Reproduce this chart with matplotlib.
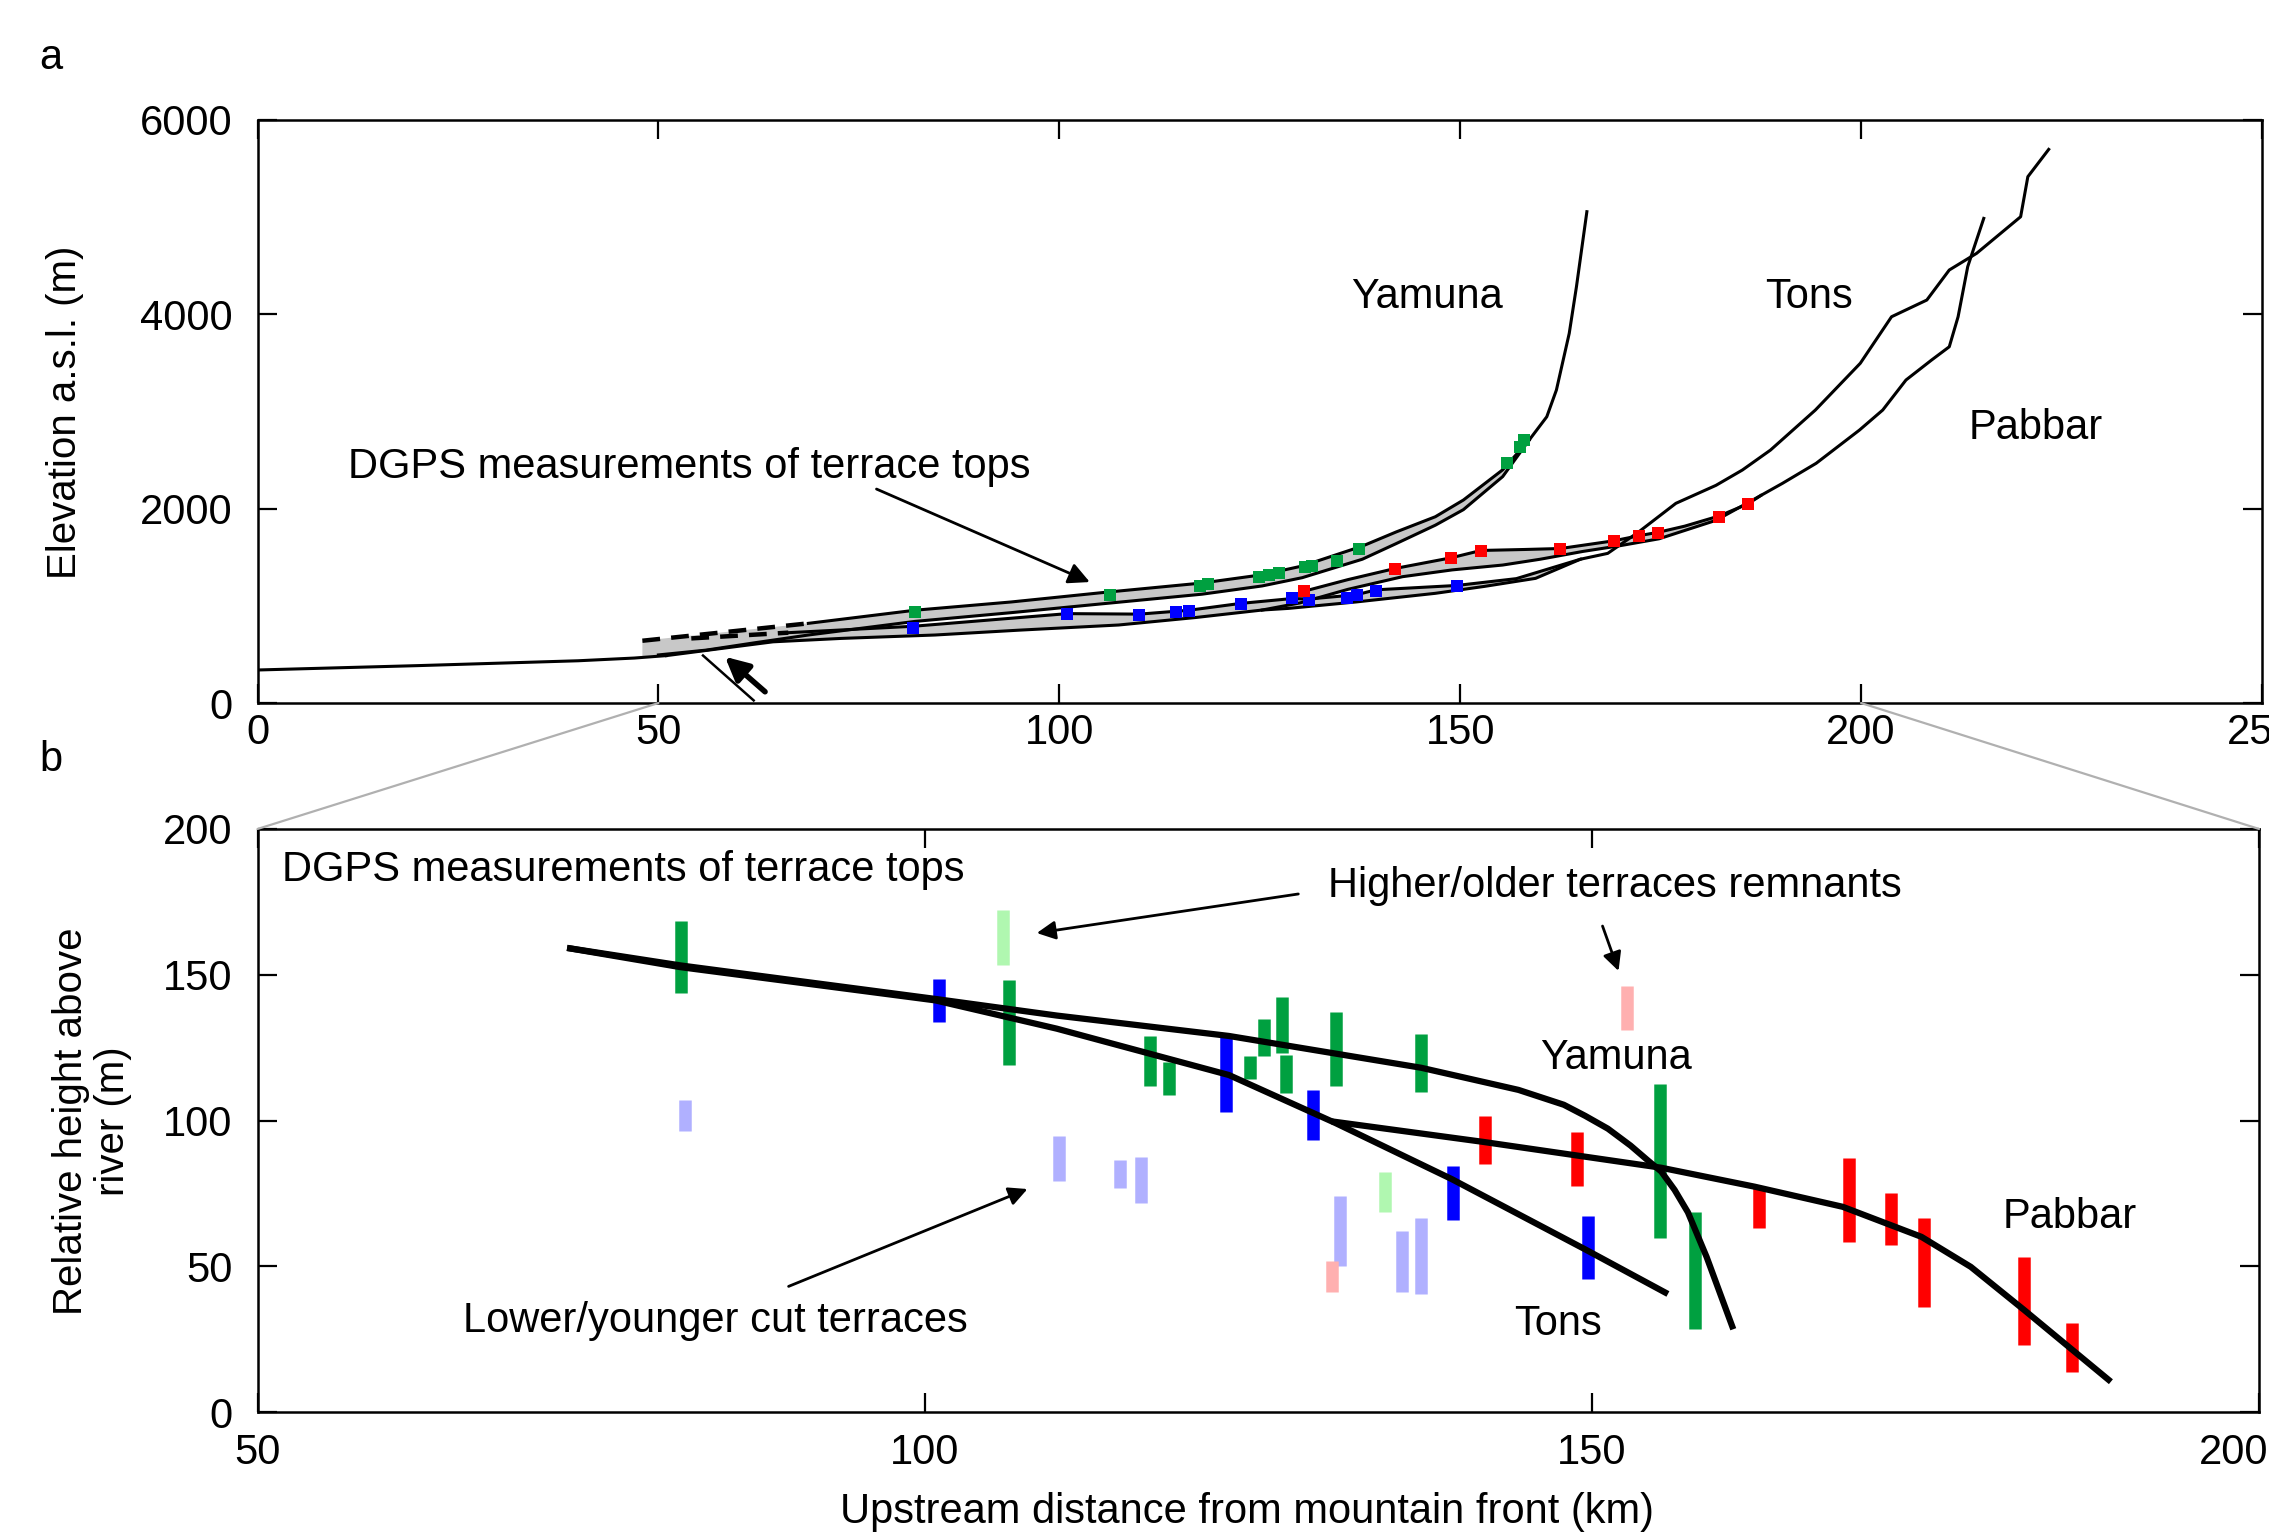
import numpy as np
import matplotlib.pyplot as plt
from matplotlib.patches import ConnectionPatch
from matplotlib.transforms import ScaledTranslation

plt.rcParams['font.family'] = ['Liberation Sans', 'DejaVu Sans']
FS = 30
FS_ROT = 29

# ---------------- panel a: river long profiles (km, m a.s.l.) ----------------
trunk_x = [0, 20, 40, 47, 51]
trunk_z = [340, 385, 435, 463, 488]

yam_top_dash_x = [48, 68.7]
yam_top_dash_z = [641, 820]
yam_top_x = [68.7, 82, 94, 105.2, 117.8, 125.3, 130.3, 137.8, 142, 146.9, 150.4, 155.3, 158.6]
yam_top_z = [820, 955, 1040, 1135, 1235, 1320, 1410, 1615, 1760, 1917, 2089, 2400, 2706]
yam_bot_x = [50, 56, 62, 68.7, 82, 94, 105.2, 117.8, 125.3, 130.3, 137.8, 142, 146.9, 150.4, 155.3, 158.6]
yam_bot_z = [495, 545, 620, 700, 840, 930, 1020, 1120, 1205, 1290, 1480, 1640, 1830, 1990, 2330, 2706]
yam_bed_x = [158.6, 160.8, 162.0, 163.6, 164.5, 165.8]
yam_bed_z = [2706, 2946, 3221, 3804, 4284, 5056]

tons_top_dash_x = [54.1, 66.2]
tons_top_dash_z = [665, 724]
tons_top_x = [66.2, 81.8, 101.0, 110, 116.2, 122.6, 129, 131.1, 137.1, 139.5, 149.6, 157, 165]
tons_top_z = [724, 790, 920, 915, 955, 1025, 1075, 1070, 1115, 1165, 1210, 1280, 1480]
tons_bed_x = [51, 58, 64.3, 72.8, 84.5, 95, 107.4, 117, 125.3, 128.6, 137, 146.9, 153, 159.4, 165,
              168.4, 172.3, 176.9, 181.9, 185.2, 188.7, 194.3, 199.9, 203.8, 208.2, 211.0, 214.4,
              219.9, 220.8, 223.4]
tons_bed_z = [488, 563, 630, 665, 700, 750, 803, 880, 957, 974, 1040, 1129, 1200, 1283, 1480,
              1540, 1763, 2055, 2240, 2398, 2603, 3015, 3496, 3975, 4147, 4456, 4627,
              5004, 5416, 5697]

pab_top_x = [128.6, 130.5, 136, 141.9, 148.9, 152.6, 158, 162.5, 169.2, 172.3, 174.7, 178, 182.3, 185.9, 187.5]
pab_top_z = [1060, 1150, 1270, 1385, 1495, 1570, 1580, 1590, 1670, 1722, 1757, 1820, 1925, 2050, 2136]
pab_bed_x = [125.3, 130, 136, 142.8, 149, 155.3, 160, 165.3, 170, 174.8, 181.9, 186.1, 187.5, 190.2,
             194.4, 199.8, 202.7, 205.6, 208.8, 211.0, 212.1, 213.3, 214.4, 215.3]
pab_bed_z = [957, 1030, 1170, 1300, 1370, 1420, 1480, 1560, 1620, 1690, 1880, 2071, 2136, 2261,
             2467, 2809, 3015, 3324, 3530, 3666, 3975, 4490, 4764, 4987]

# DGPS terrace tops on the profiles
g_pts_x = [82.0, 106.3, 117.6, 118.6, 124.9, 126.1, 127.4, 130.7, 131.5, 134.6, 137.4, 155.8, 157.5, 158.0]
g_pts_z = [940, 1111, 1207, 1221, 1300, 1317, 1334, 1396, 1410, 1464, 1581, 2466, 2638, 2706]
b_pts_x = [81.8, 101.0, 110.0, 114.5, 116.2, 122.6, 129.0, 131.1, 135.9, 137.1, 139.5, 149.6]
b_pts_z = [768, 912, 906, 940, 950, 1015, 1077, 1060, 1084, 1111, 1156, 1204]
r_pts_x = [130.5, 141.9, 148.9, 152.6, 162.5, 169.2, 172.3, 174.7, 182.3, 185.9]
r_pts_z = [1156, 1379, 1489, 1567, 1585, 1667, 1718, 1752, 1917, 2045]

# ---------------- panel b: relative terrace heights (m) ----------------
yam_fit_x = [73.2, 81.7, 100.8, 109.9, 122.8, 137.2, 144.5, 147.9, 149.5, 151.2, 152.9, 154.2, 155.2, 156.2, 157.2, 158.6, 160.6]
yam_fit_y = [159.2, 153.2, 141.7, 136.0, 129.0, 118.1, 110.5, 105.4, 101.6, 97.2, 91.4, 86.3, 82.5, 76.2, 68.5, 53.2, 28.4]
tons_fit_x = [73.2, 81.7, 100.8, 109.9, 122.8, 130.8, 139.5, 149.5, 155.7]
tons_fit_y = [159.2, 152.6, 141.2, 131.5, 115.6, 99.1, 79.9, 55.8, 40.5]
pab_fit_x = [130.5, 141.8, 155.2, 162.2, 168.8, 174.7, 178.4, 182.4, 188.9]
pab_fit_y = [99.7, 92.7, 83.8, 77.3, 70.4, 60.1, 49.8, 35.0, 10.4]

green_x = [81.7, 106.3, 116.9, 118.3, 124.4, 125.4, 126.8, 127.1, 130.8, 137.2, 155.1, 157.7]
green_lo = [143.6, 119.2, 112.0, 108.6, 114.3, 122.0, 123.3, 109.3, 111.8, 109.9, 59.6, 28.4]
green_hi = [168.4, 148.1, 129.0, 120.0, 122.0, 134.7, 142.4, 122.6, 137.3, 129.6, 112.4, 68.5]
blue_x = [101.1, 122.6, 129.1, 139.6, 149.7]
blue_lo = [133.8, 102.9, 93.3, 65.9, 45.6]
blue_hi = [148.7, 129.0, 110.5, 84.4, 67.2]
red_x = [142.0, 148.9, 162.5, 169.3, 172.4, 174.9, 182.4, 186.0]
red_lo = [85.0, 77.4, 63.0, 58.4, 57.3, 36.1, 23.0, 13.8]
red_hi = [101.6, 95.9, 77.3, 87.0, 75.0, 66.4, 53.3, 30.4]
lav_x = [82.0, 110.05, 114.6, 116.2, 131.1, 135.8, 137.2]
lav_lo = [96.3, 79.3, 76.8, 71.7, 50.0, 41.1, 40.5]
lav_hi = [107.0, 94.6, 86.3, 87.6, 74.2, 62.1, 66.6]
lgreen_x = [105.9, 134.5]
lgreen_lo = [153.2, 68.5]
lgreen_hi = [172.3, 82.5]
pink_x = [130.5, 152.6]
pink_lo = [41.1, 130.9]
pink_hi = [51.9, 146.2]

GREEN = '#00a040'
BLUE = '#0000ff'
RED = '#ff0000'
LAV = '#b0b0ff'
LGREEN = '#b0f7b0'
PINK = '#ffb0b0'
BAND = '#c8c8c8'

fig = plt.figure(figsize=(22.69, 15.32), dpi=100)
ax1 = fig.add_axes([0.1135, 0.5411, 0.8834, 0.3806])
ax2 = fig.add_axes([0.1135, 0.0783, 0.8821, 0.3806])


def band(ax, xt, zt, xb, zb):
    xs = np.concatenate([xt, xb[::-1]])
    zs = np.concatenate([zt, zb[::-1]])
    ax.fill(xs, zs, color=BAND, lw=0, zorder=1)


# --- panel a ---
n_tons = len([x for x in tons_bed_x if x <= 165])
band(ax1, yam_top_dash_x + yam_top_x[1:], yam_top_dash_z + yam_top_z[1:], yam_bot_x, yam_bot_z)
band(ax1, tons_top_dash_x + tons_top_x[1:], tons_top_dash_z + tons_top_z[1:],
     tons_bed_x[:n_tons], tons_bed_z[:n_tons])
band(ax1, pab_top_x, pab_top_z, pab_bed_x[:13], pab_bed_z[:13])
ax1.fill([48, 54.1, 51, 48], [641, 665, 488, 480], color=BAND, lw=0, zorder=1)

lw_a = 2.2
ax1.plot(trunk_x, trunk_z, color='k', lw=lw_a, zorder=3)
ax1.plot(yam_top_dash_x, yam_top_dash_z, color='k', lw=lw_a + 1, ls=(0, (4, 2.5)), zorder=3)
ax1.plot(yam_top_x, yam_top_z, color='k', lw=lw_a, zorder=3)
ax1.plot(yam_bot_x, yam_bot_z, color='k', lw=lw_a, zorder=3)
ax1.plot(yam_bed_x, yam_bed_z, color='k', lw=lw_a, zorder=3)
ax1.plot(tons_top_dash_x, tons_top_dash_z, color='k', lw=lw_a + 1, ls=(0, (4, 2.5)), zorder=3)
ax1.plot(tons_top_x, tons_top_z, color='k', lw=lw_a, zorder=3)
ax1.plot(tons_bed_x, tons_bed_z, color='k', lw=lw_a, zorder=3)
ax1.plot(pab_top_x, pab_top_z, color='k', lw=lw_a, zorder=3)
ax1.plot(pab_bed_x, pab_bed_z, color='k', lw=lw_a, zorder=3)

ax1.plot(g_pts_x, g_pts_z, 's', color=GREEN, ms=8, mew=0, zorder=4)
ax1.plot(b_pts_x, b_pts_z, 's', color=BLUE, ms=8, mew=0, zorder=4)
ax1.plot(r_pts_x, r_pts_z, 's', color=RED, ms=8, mew=0, zorder=4)

# fault symbol near the mountain front
ax1.plot([55.56, 61.88], [489, 27], color='k', lw=1.8, zorder=3, clip_on=False)
ax1.annotate('', xy=(58.3, 476), xytext=(63.3, 116),
             arrowprops=dict(arrowstyle='-|>', color='k', lw=4, mutation_scale=35,
                             shrinkA=0, shrinkB=0))

ax1.text(11.3, 2428, 'DGPS measurements of terrace tops', fontsize=FS, ha='left', va='center')
ax1.annotate('', xy=(103.8, 1245), xytext=(77.2, 2202),
             arrowprops=dict(arrowstyle='-|>', color='k', lw=2, mutation_scale=32,
                             shrinkA=0, shrinkB=0))
ax1.text(145.9, 4178, 'Yamuna', fontsize=FS, ha='center', va='center')
ax1.text(193.5, 4178, 'Tons', fontsize=FS, ha='center', va='center')
ax1.text(221.8, 2830, 'Pabbar', fontsize=FS, ha='center', va='center')

ax1.set_xlim(0, 250)
ax1.set_ylim(0, 6000)
ax1.set_xticks([0, 50, 100, 150, 200, 250])
ax1.set_yticks([0, 2000, 4000, 6000])
ax1.tick_params(axis='x', direction='in', length=14, width=1.6, top=True, labelsize=FS, pad=7)
ax1.tick_params(axis='y', direction='in', length=14, width=1.6, right=True, labelsize=FS, pad=18)

# --- panel b ---
lw_b = 4.5
ax2.plot(yam_fit_x, yam_fit_y, color='k', lw=lw_b, zorder=3, solid_capstyle='butt')
ax2.plot(tons_fit_x, tons_fit_y, color='k', lw=lw_b, zorder=3, solid_capstyle='butt')
ax2.plot(pab_fit_x, pab_fit_y, color='k', lw=lw_b, zorder=3, solid_capstyle='butt')

bar_w = 9
for xs, lo, hi, c in [(lav_x, lav_lo, lav_hi, LAV), (lgreen_x, lgreen_lo, lgreen_hi, LGREEN),
                      (pink_x, pink_lo, pink_hi, PINK), (green_x, green_lo, green_hi, GREEN),
                      (blue_x, blue_lo, blue_hi, BLUE), (red_x, red_lo, red_hi, RED)]:
    ax2.vlines(xs, lo, hi, colors=c, lw=bar_w, zorder=2)

ax2.text(51.8, 185.9, 'DGPS measurements of terrace tops', fontsize=FS, ha='left', va='center')
ax2.text(130.2, 180.4, 'Higher/older terraces remnants', fontsize=FS, ha='left', va='center')
ax2.annotate('', xy=(108.4, 164.3), xytext=(128.0, 177.7),
             arrowprops=dict(arrowstyle='-|>', color='k', lw=2, mutation_scale=28,
                             shrinkA=0, shrinkB=0))
ax2.annotate('', xy=(152.0, 151.3), xytext=(150.8, 166.7),
             arrowprops=dict(arrowstyle='-|>', color='k', lw=2, mutation_scale=28,
                             shrinkA=0, shrinkB=0))
ax2.text(65.4, 31.2, 'Lower/younger cut terraces', fontsize=FS, ha='left', va='center')
ax2.annotate('', xy=(107.7, 76.5), xytext=(89.8, 43.1),
             arrowprops=dict(arrowstyle='-|>', color='k', lw=2, mutation_scale=28,
                             shrinkA=0, shrinkB=0))
ax2.text(151.8, 121.4, 'Yamuna', fontsize=FS, ha='center', va='center')
ax2.text(147.5, 30.2, 'Tons', fontsize=FS, ha='center', va='center')
ax2.text(185.8, 66.9, 'Pabbar', fontsize=FS, ha='center', va='center')

ax2.set_xlim(50, 200)
ax2.set_ylim(0, 200)
ax2.set_xticks([50, 100, 150, 200])
ax2.set_yticks([0, 50, 100, 150, 200])
ax2.tick_params(axis='x', direction='in', length=14, width=1.6, top=True, labelsize=FS, pad=15)
ax2.tick_params(axis='y', direction='in', length=14, width=1.6, right=True, labelsize=FS, pad=18)
# last tick label sits just inside the figure edge, as in the original
last = ax2.get_xticklabels()[-1]
last.set_transform(last.get_transform() + ScaledTranslation(-0.25, 0, fig.dpi_scale_trans))

for ax in (ax1, ax2):
    for s in ax.spines.values():
        s.set_linewidth(1.8)

# zoom connectors from panel a to panel b
for xa, xb in [(50, 50), (200, 200)]:
    con = ConnectionPatch(xyA=(xa, 0), coordsA=ax1.transData, xyB=(xb, 200), coordsB=ax2.transData,
                          color='#b0b0b0', lw=1.6)
    fig.add_artist(con)

fig.text(0.0225, 0.962, 'a', fontsize=FS, ha='center', va='center')
fig.text(0.0225, 0.504, 'b', fontsize=FS, ha='center', va='center')
fig.text(65 / 2269, 1 - 412 / 1532, 'Elevation a.s.l. (m)', fontsize=FS_ROT, rotation=90,
         ha='center', va='center')
fig.text(92 / 2269, 1 - 1121 / 1532, 'Relative height above\nriver (m)', fontsize=FS_ROT, rotation=90,
         ha='center', va='center', multialignment='center', linespacing=1.1)
fig.text(1247 / 2269, 1 - 1512 / 1532, 'Upstream distance from mountain front (km)', fontsize=FS,
         ha='center', va='center')

fig.savefig('out.png', dpi=100)
